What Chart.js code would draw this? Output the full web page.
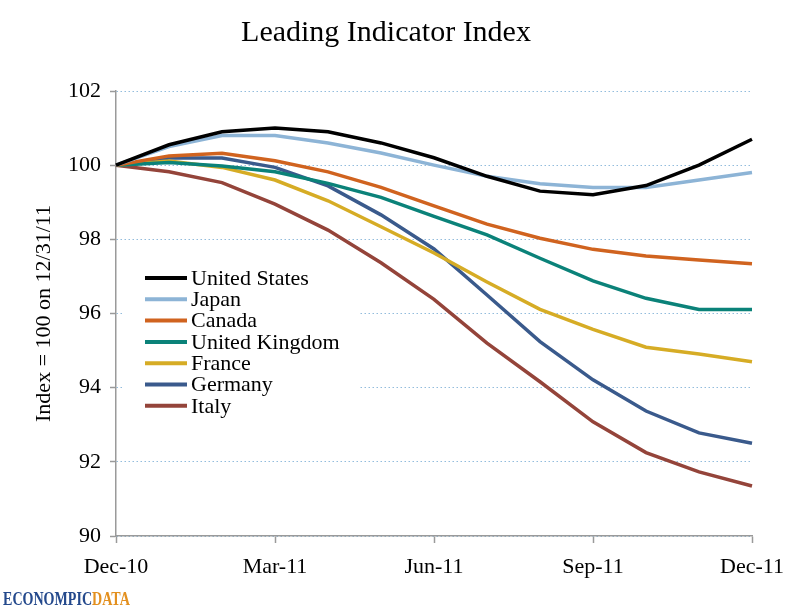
<!DOCTYPE html>
<html>
<head>
<meta charset="utf-8">
<script src="https://cdn.jsdelivr.net/npm/chart.js@4.4.1/dist/chart.umd.min.js"></script>
<style>
  html, body { margin: 0; padding: 0; background: #ffffff; }
  #wrap { position: relative; width: 800px; height: 609px; }
</style>
</head>
<body>
<div id="wrap"><canvas id="c" width="800" height="609"></canvas></div>
<script>
const months = ['Dec-10','Jan-11','Feb-11','Mar-11','Apr-11','May-11','Jun-11','Jul-11','Aug-11','Sep-11','Oct-11','Nov-11','Dec-11'];
const yTicks = [90, 92, 94, 96, 98, 100, 102];

const unitedStates  = [100, 100.55, 100.9, 101.0, 100.9, 100.6, 100.2, 99.7, 99.3, 99.2, 99.45, 100.0, 100.7];
const japan         = [100, 100.5, 100.8, 100.8, 100.6, 100.33, 100.0, 99.7, 99.5, 99.4, 99.4, 99.6, 99.8];
const canada        = [100, 100.25, 100.32, 100.12, 99.82, 99.4, 98.9, 98.41, 98.03, 97.73, 97.55, 97.44, 97.34];
const unitedKingdom = [100, 100.07, 99.98, 99.82, 99.51, 99.13, 98.62, 98.12, 97.49, 96.88, 96.41, 96.11, 96.11];
const france        = [100, 100.11, 99.94, 99.6, 99.04, 98.34, 97.63, 96.85, 96.11, 95.57, 95.09, 94.91, 94.70];
const germany       = [100, 100.19, 100.19, 99.94, 99.44, 98.66, 97.74, 96.5, 95.24, 94.21, 93.37, 92.78, 92.50];
const italy         = [100, 99.82, 99.53, 98.95, 98.25, 97.37, 96.38, 95.2, 94.16, 93.08, 92.25, 91.73, 91.35];

const seriesNames  = ['United States','Japan','Canada','United Kingdom','France','Germany','Italy'];
const seriesData   = [unitedStates, japan, canada, unitedKingdom, france, germany, italy];
const seriesColors = ['#000000','#8db4d6','#d0631f','#0b8279','#d6ac25','#3a5a8c','#94443a'];

const FONT = '"Liberation Serif", "Times New Roman", serif';

const datasets = seriesNames.map((n, i) => ({
  label: n,
  data: seriesData[i],
  borderColor: seriesColors[i],
  backgroundColor: seriesColors[i],
  borderWidth: 3.5,
  pointRadius: 0,
  tension: 0,
  fill: false,
  order: i
}));

const overlay = {
  id: 'overlay',
  afterDraw(chart) {
    const ctx = chart.ctx;
    ctx.save();
    // Title
    ctx.fillStyle = '#000';
    ctx.font = '30px ' + FONT;
    ctx.textAlign = 'center';
    ctx.textBaseline = 'middle';
    ctx.fillText('Leading Indicator Index', 386, 33);

    // Legend
    ctx.fillStyle = '#ffffff';
    ctx.fillRect(124, 266, 236, 150);
    ctx.font = '22px ' + FONT;
    ctx.textAlign = 'left';
    ctx.textBaseline = 'middle';
    chart.data.datasets.forEach((ds, i) => {
      const y = 278 + i * 21.3;
      ctx.strokeStyle = ds.borderColor;
      ctx.lineWidth = 4;
      ctx.beginPath();
      ctx.moveTo(145, y);
      ctx.lineTo(187, y);
      ctx.stroke();
      ctx.fillStyle = '#000';
      ctx.fillText(ds.label, 191, y + 1);
    });

    // Logo text
    ctx.save();
    ctx.translate(3, 605);
    ctx.scale(0.74, 1);
    ctx.font = 'bold 19px ' + FONT;
    ctx.textAlign = 'left';
    ctx.textBaseline = 'alphabetic';
    ctx.fillStyle = '#24498c';
    const part1 = 'ECONOMPIC';
    ctx.fillText(part1, 0, 0);
    const w1 = ctx.measureText(part1).width;
    ctx.fillStyle = '#e3901f';
    ctx.fillText('DATA', w1, 0);
    ctx.restore();
    ctx.restore();
  }
};

new Chart(document.getElementById('c'), {
  type: 'line',
  data: { labels: months, datasets },
  options: {
    responsive: false,
    animation: false,
    devicePixelRatio: 1,
    layout: { padding: { top: 91, right: 48, bottom: 0, left: 0 } },
    plugins: {
      legend: { display: false },
      title: { display: false },
      tooltip: { enabled: false }
    },
    scales: {
      x: {
        type: 'category',
        offset: false,
        afterFit(scale) { scale.height = 73; },
        grid: {
          display: true,
          drawOnChartArea: false,
          drawTicks: true,
          tickLength: 7,
          tickColor: '#9a9a9a',
          tickWidth: 1.5
        },
        border: { display: true, color: '#9a9a9a', width: 1.5 },
        ticks: {
          autoSkip: false,
          maxRotation: 0,
          padding: 11,
          color: '#000',
          font: { family: FONT, size: 22 },
          callback(value, index) { return index % 3 === 0 ? months[index] : null; }
        }
      },
      y: {
        min: 90,
        max: 102,
        afterFit(scale) { scale.width = 116; },
        afterBuildTicks(scale) { scale.ticks = yTicks.map(v => ({ value: v })); },
        grid: {
          display: true,
          drawOnChartArea: true,
          color: '#93bcdc',
          lineWidth: 1,
          drawTicks: true,
          tickLength: 6,
          tickColor: '#9a9a9a',
          tickWidth: 1.5,
          tickBorderDash: []
        },
        border: { display: true, color: '#9a9a9a', width: 1.5, dash: [1.5, 2.5] },
        ticks: {
          padding: 9,
          color: '#000',
          font: { family: FONT, size: 22 },
          callback(v) { return String(v); }
        },
        title: {
          display: true,
          text: 'Index = 100 on 12/31/11',
          color: '#000',
          font: { family: FONT, size: 22 },
          padding: { top: 31, bottom: 0 }
        }
      }
    }
  },
  plugins: [overlay]
});
</script>
</body>
</html>
